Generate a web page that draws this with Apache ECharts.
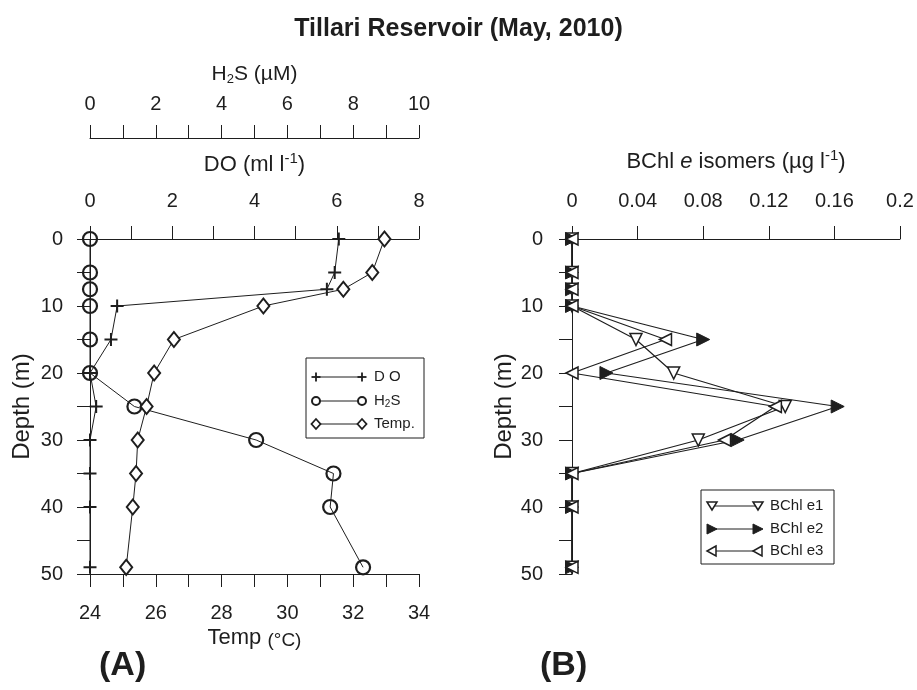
<!DOCTYPE html>
<html lang="en">
<head>
    <meta charset="UTF-8">
    <title>Tillari Reservoir (May, 2010)</title>
    <script src="https://cdn.jsdelivr.net/npm/echarts@6/dist/echarts.min.js"></script>
</head>
<body style="margin:0;background:#fff;">
    <div id="main" style="width: 917px;height:690px;"></div>
    <script type="text/javascript">
        // depth of each sample (m)
        var depths = [0, 5, 7.5, 10, 15, 20, 25, 30, 35, 40, 49];
        // panel A
        var doVals = [6.05, 5.95, 5.76, 0.66, 0.51, 0, 0.15, 0, 0, 0, 0];
        var h2sVals = [0, 0, 0, 0, 0, 0, 1.35, 5.05, 7.4, 7.3, 8.3];
        var tempVals = [32.95, 32.58, 31.7, 29.27, 26.55, 25.95, 25.72, 25.45, 25.4, 25.3, 25.1];
        // panel B
        var bchlE1 = [0, 0, 0, 0, 0.039, 0.062, 0.130, 0.077, 0, 0, 0];
        var bchlE2 = [0, 0, 0, 0, 0.080, 0.021, 0.162, 0.101, 0, 0, 0];
        var bchlE3 = [0, 0, 0, 0, 0.057, 0, 0.124, 0.093, 0, 0, 0];

        var FONT = 'Liberation Sans, Arial, sans-serif';
        var INK = '#1e1e1e';
        var PLUS = 'path://M0,5L10,5M5,0L5,10';

        function pairs(vals) {
            return vals.map(function (v, i) { return [v, depths[i]]; });
        }

        var myChart = echarts.init(document.getElementById('main'));

        var axisCommon = {
            axisLine: { lineStyle: { color: INK, width: 1 } },
            axisTick: { length: 13, lineStyle: { color: INK, width: 1 } },
            splitLine: { show: false },
            axisLabel: { color: INK, fontSize: 20, fontFamily: FONT },
            nameTextStyle: { color: INK, fontSize: 22, fontFamily: FONT }
        };

        function xAx(opt) { return echarts.util.merge(echarts.util.clone(axisCommon), opt, true); }

        function evenLabel(v) { return v % 2 === 0 ? String(v) : ''; }
        function tenLabel(v) { return v % 10 === 0 ? String(v) : ''; }

        // legend box drawn as graphics (marker - line - marker, like the original)
        function legendRow(x, y, kind, rich, text) {
            var els = [{ type: 'line', shape: { x1: x, y1: y, x2: x + 46, y2: y }, style: { stroke: INK, lineWidth: 1 } }];
            [x, x + 46].forEach(function (cx) {
                var s = 4.5;
                if (kind === 'plus') {
                    els.push({ type: 'line', shape: { x1: cx - s, y1: y, x2: cx + s, y2: y }, style: { stroke: INK, lineWidth: 1.8 } });
                    els.push({ type: 'line', shape: { x1: cx, y1: y - s, x2: cx, y2: y + s }, style: { stroke: INK, lineWidth: 1.8 } });
                } else if (kind === 'circle') {
                    els.push({ type: 'circle', shape: { cx: cx, cy: y, r: 4 }, style: { fill: '#fff', stroke: INK, lineWidth: 2 } });
                } else if (kind === 'diamond') {
                    els.push({ type: 'polygon', shape: { points: [[cx, y - 5], [cx + 4.5, y], [cx, y + 5], [cx - 4.5, y]] }, style: { fill: '#fff', stroke: INK, lineWidth: 1.8 } });
                } else if (kind === 'down') {
                    els.push({ type: 'polygon', shape: { points: [[cx - 5, y - 4], [cx + 5, y - 4], [cx, y + 4]] }, style: { fill: '#fff', stroke: INK, lineWidth: 1.5 } });
                } else if (kind === 'right') {
                    els.push({ type: 'polygon', shape: { points: [[cx - 5, y - 5], [cx + 5, y], [cx - 5, y + 5]] }, style: { fill: INK, stroke: INK, lineWidth: 1 } });
                } else if (kind === 'left') {
                    els.push({ type: 'polygon', shape: { points: [[cx + 4, y - 5], [cx - 5, y], [cx + 4, y + 5]] }, style: { fill: '#fff', stroke: INK, lineWidth: 1.5 } });
                }
            });
            els.push({
                type: 'text', x: x + 58, y: y,
                style: { text: text, rich: rich, fill: INK, font: '15px ' + FONT, verticalAlign: 'middle' }
            });
            return els;
        }

        var subRich = { sub: { fontSize: 10, fontFamily: FONT, fill: INK, verticalAlign: 'bottom', padding: [6, 0, 0, 0] } };

        var graphics = [
            { type: 'rect', shape: { x: 306, y: 358, width: 118, height: 80 }, style: { fill: '#fff', stroke: INK, lineWidth: 1 } },
            { type: 'rect', shape: { x: 701, y: 490, width: 133, height: 74 }, style: { fill: '#fff', stroke: INK, lineWidth: 1 } }
        ]
            .concat(legendRow(316, 377, 'plus', null, 'D O'))
            .concat(legendRow(316, 401, 'circle', subRich, 'H{sub|2}S'))
            .concat(legendRow(316, 424, 'diamond', null, 'Temp.'))
            .concat(legendRow(712, 506, 'down', null, 'BChl e1'))
            .concat(legendRow(712, 529, 'right', null, 'BChl e2'))
            .concat(legendRow(712, 551, 'left', null, 'BChl e3'));

        var supRich = {
            sup: { fontSize: 15, fontFamily: FONT, color: INK, verticalAlign: 'top', lineHeight: 15 },
            sub: { fontSize: 13, fontFamily: FONT, color: INK, verticalAlign: 'bottom', lineHeight: 13 },
            it: { fontSize: 22, fontFamily: FONT, color: INK, fontStyle: 'italic', lineHeight: 28 },
            sm: { fontSize: 19, fontFamily: FONT, color: INK, lineHeight: 28, padding: [5, 0, 0, 0] }
        };

        var option = {
            backgroundColor: '#fff',
            animation: false,
            title: [
                { text: 'Tillari Reservoir (May, 2010)', left: 'center', top: 12, textStyle: { fontSize: 25, fontWeight: 'bold', color: INK, fontFamily: FONT } },
                { text: '(A)', left: 94, top: 644, textStyle: { fontSize: 34, fontWeight: 'bold', color: INK, fontFamily: FONT } },
                { text: '(B)', left: 535, top: 644, textStyle: { fontSize: 34, fontWeight: 'bold', color: INK, fontFamily: FONT } }
            ],
            grid: [
                { left: 90, top: 239, width: 329, height: 335 },
                { left: 572, top: 239, width: 328, height: 335 }
            ],
            xAxis: [
                xAx({
                    gridIndex: 0, type: 'value', position: 'top', min: 0, max: 8, interval: 1,
                    name: 'DO (ml l{sup|-1})', nameLocation: 'middle', nameGap: 60,
                    nameTextStyle: { lineHeight: 28, rich: supRich },
                    axisLabel: { formatter: evenLabel, margin: 28 }
                }),
                xAx({
                    gridIndex: 0, type: 'value', position: 'top', offset: 101, min: 0, max: 10, interval: 1,
                    name: 'H{sub|2}S (µM)', nameLocation: 'middle', nameGap: 52,
                    nameTextStyle: { fontSize: 21, lineHeight: 24, rich: supRich },
                    axisLabel: { formatter: evenLabel, margin: 24 }
                }),
                xAx({
                    gridIndex: 0, type: 'value', position: 'bottom', min: 24, max: 34, interval: 1,
                    name: 'Temp {sm|(°C)}', nameLocation: 'middle', nameGap: 50,
                    nameTextStyle: { lineHeight: 28, rich: supRich },
                    axisLabel: { formatter: evenLabel, margin: 29 }
                }),
                xAx({
                    gridIndex: 1, type: 'value', position: 'top', min: 0, max: 0.2, interval: 0.04,
                    name: 'BChl {it|e} isomers (µg l{sup|-1})', nameLocation: 'middle', nameGap: 63,
                    nameTextStyle: { lineHeight: 28, rich: supRich },
                    axisLabel: { formatter: function (v) { return String(+v.toFixed(2)); }, margin: 28 }
                })
            ],
            yAxis: [
                xAx({
                    gridIndex: 0, type: 'value', inverse: true, min: 0, max: 50, interval: 5,
                    name: 'Depth (m)', nameLocation: 'middle', nameGap: 56, nameRotate: 90,
                    nameTextStyle: { fontSize: 24 },
                    axisLabel: { formatter: tenLabel, margin: 27 }
                }),
                xAx({
                    gridIndex: 1, type: 'value', inverse: true, min: 0, max: 50, interval: 5,
                    name: 'Depth (m)', nameLocation: 'middle', nameGap: 55, nameRotate: 90,
                    nameTextStyle: { fontSize: 24 },
                    axisLabel: { formatter: tenLabel, margin: 29 }
                })
            ],
            graphic: graphics,
            series: [
                {
                    name: 'DO', type: 'line', xAxisIndex: 0, yAxisIndex: 0, data: pairs(doVals),
                    symbol: PLUS, symbolSize: 13,
                    lineStyle: { color: INK, width: 1 },
                    itemStyle: { color: 'rgba(0,0,0,0)', borderColor: INK, borderWidth: 2 }
                },
                {
                    name: 'H2S', type: 'line', xAxisIndex: 1, yAxisIndex: 0, data: pairs(h2sVals),
                    symbol: 'circle', symbolSize: 14,
                    lineStyle: { color: INK, width: 1 },
                    itemStyle: { color: 'rgba(0,0,0,0)', borderColor: INK, borderWidth: 2.2 }
                },
                {
                    name: 'Temp.', type: 'line', xAxisIndex: 2, yAxisIndex: 0, data: pairs(tempVals),
                    symbol: 'diamond', symbolSize: [12, 15],
                    lineStyle: { color: INK, width: 1 },
                    itemStyle: { color: '#fff', borderColor: INK, borderWidth: 2 }
                },
                {
                    name: 'BChl e1', type: 'line', xAxisIndex: 3, yAxisIndex: 1, data: pairs(bchlE1),
                    symbol: 'triangle', symbolRotate: 180, symbolSize: 12,
                    lineStyle: { color: INK, width: 1.2 },
                    itemStyle: { color: '#fff', borderColor: INK, borderWidth: 1.5 }
                },
                {
                    name: 'BChl e2', type: 'line', xAxisIndex: 3, yAxisIndex: 1, data: pairs(bchlE2),
                    symbol: 'triangle', symbolRotate: -90, symbolSize: 13,
                    lineStyle: { color: INK, width: 1.2 },
                    itemStyle: { color: INK, borderColor: INK, borderWidth: 1 }
                },
                {
                    name: 'BChl e3', type: 'line', xAxisIndex: 3, yAxisIndex: 1, data: pairs(bchlE3),
                    symbol: 'triangle', symbolRotate: 90, symbolSize: 12,
                    lineStyle: { color: INK, width: 1.2 },
                    itemStyle: { color: '#fff', borderColor: INK, borderWidth: 1.5 }
                }
            ]
        };

        myChart.setOption(option);
    </script>
</body>
</html>
